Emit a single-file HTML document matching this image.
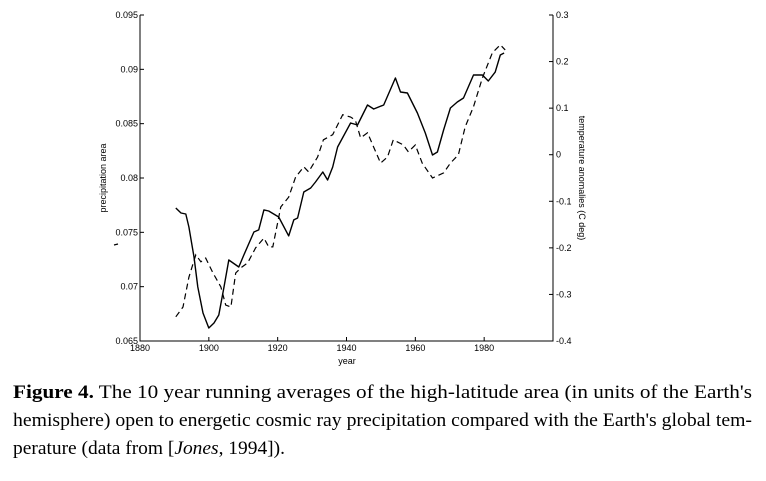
<!DOCTYPE html>
<html><head><meta charset="utf-8"><style>
html,body{margin:0;padding:0;background:#fff;}
svg{display:block;font-family:"Liberation Sans",sans-serif;}
</style></head><body>
<svg id="chart" width="766" height="481" viewBox="0 0 766 481" xmlns="http://www.w3.org/2000/svg">
<g id="axes"></g>
<g id="series"></g>
<line x1="114" y1="245" x2="118" y2="244" stroke="#000" stroke-width="1.2"/>
<text transform="translate(106,178) rotate(-90)" text-anchor="middle" font-size="9">precipitation area</text>
<text transform="translate(579,178) rotate(90)" text-anchor="middle" font-size="9">temperature anomalies (C deg)</text>
<text x="347" y="364" text-anchor="middle" font-size="9">year</text>
<g font-family="Liberation Serif, serif" font-size="19">
<text x="13" y="398" textLength="739" lengthAdjust="spacingAndGlyphs"><tspan font-weight="bold">Figure 4.</tspan>  The 10 year running averages of the high-latitude area (in units of the Earth's</text>
<text x="13" y="426" textLength="739" lengthAdjust="spacingAndGlyphs">hemisphere) open to energetic cosmic ray precipitation compared with the Earth's global tem-</text>
<text x="13" y="454" textLength="272" lengthAdjust="spacingAndGlyphs">perature (data from [<tspan font-style="italic">Jones</tspan>, 1994]).</text>
</g>
</svg>
<script>
const xTicks=[1880,1900,1920,1940,1960,1980];
const yLeftTicks=["0.065","0.07","0.075","0.08","0.085","0.09","0.095"];
const yRightTicks=["-0.4","-0.3","-0.2","-0.1","0","0.1","0.2","0.3"];
const precipYears=[1890.4,1891.9,1893.3,1894.2,1895.7,1896.8,1898.3,1900,1901.5,1902.9,1904.4,1905.8,1908.7,1910.2,1913.1,1914.5,1916,1917.4,1920.3,1923.2,1924.7,1925.8,1927.6,1929.6,1931,1933.1,1934.5,1936,1937.4,1941.2,1943.2,1946.1,1947.9,1950.8,1954.2,1955.7,1957.7,1960.6,1962.9,1965,1966.4,1968.2,1970.2,1972.2,1974,1976.9,1979.5,1981.2,1983.2,1984.7,1985.8];
const precipValues=[0.07724,0.07678,0.07669,0.07549,0.07273,0.06997,0.06758,0.0662,0.06666,0.06739,0.06997,0.07245,0.07181,0.07292,0.07503,0.07522,0.07706,0.07696,0.07641,0.07467,0.07614,0.07632,0.07871,0.07908,0.07963,0.08055,0.07982,0.08101,0.08285,0.08506,0.08488,0.08672,0.08635,0.08672,0.0892,0.08791,0.08782,0.08598,0.08414,0.08212,0.08239,0.08442,0.08644,0.08699,0.08736,0.08948,0.08948,0.08893,0.08975,0.09132,0.0915];
const tempYears=[1890.4,1892.5,1894.2,1896.2,1897.7,1899.1,1901.2,1903.5,1904.9,1906.4,1907.8,1909.3,1911.3,1913.6,1916,1917.4,1918.6,1920.9,1923.2,1925.2,1927.6,1929,1931.6,1933.3,1936,1938.9,1941.2,1942.6,1944.1,1946.1,1949.9,1951.9,1953.6,1956.5,1958,1960,1962,1965,1968.2,1970.2,1972.5,1974.5,1976.9,1979.5,1982.4,1984.7,1986.1];
const tempValues=[-0.348,-0.327,-0.263,-0.215,-0.23,-0.222,-0.254,-0.284,-0.323,-0.327,-0.254,-0.243,-0.232,-0.2,-0.179,-0.198,-0.198,-0.112,-0.091,-0.048,-0.026,-0.037,-0.005,0.032,0.043,0.086,0.081,0.074,0.036,0.047,-0.018,-0.005,0.032,0.021,0.006,0.021,-0.018,-0.05,-0.039,-0.018,0,0.06,0.103,0.165,0.219,0.236,0.225];

const X0=140,X1=553,Y0=15,Y1=341;
const xs=y=>X0+(y-1880)/120*(X1-X0);
const yl=v=>Y1-(v-0.065)/0.03*(Y1-Y0);
const yr=v=>Y1-(v+0.4)/0.7*(Y1-Y0);
const NS="http://www.w3.org/2000/svg";
function mk(tag,attrs,parent){const e=document.createElementNS(NS,tag);for(const k in attrs)e.setAttribute(k,attrs[k]);parent.appendChild(e);return e;}
const ax=document.getElementById('axes');
const frame=mk('path',{d:`M${X0},${Y0}V${Y1}H${X1}V${Y0}`,fill:'none',stroke:'#000','stroke-width':1},ax);


xTicks.forEach(t=>{
  const x=xs(t);
  const l=mk('line',{x1:x,y1:Y1,x2:x,y2:Y1-4,stroke:'#000'},ax);
  
  
  const tx=mk('text',{x:x,y:Y1+10,'text-anchor':'middle','font-size':9},ax);
  tx.textContent=t;
  
  
});
yLeftTicks.forEach(t=>{
  const y=yl(parseFloat(t));
  const l=mk('line',{x1:X0,y1:y,x2:X0+4,y2:y,stroke:'#000'},ax);
  
  
  const tx=mk('text',{x:X0-2,y:y+3,'text-anchor':'end','font-size':9},ax);
  tx.textContent=t;
  
  
});
yRightTicks.forEach(t=>{
  const y=yr(parseFloat(t));
  const l=mk('line',{x1:X1,y1:y,x2:X1-4,y2:y,stroke:'#000'},ax);
  
  
  const tx=mk('text',{x:X1+3,y:y+3,'font-size':9},ax);
  tx.textContent=t;
  
  
});
const sg=document.getElementById('series');
const p1=mk('path',{d:precipYears.map((yy,i)=>(i?'L':'M')+xs(yy).toFixed(1)+','+yl(precipValues[i]).toFixed(1)).join(''),fill:'none',stroke:'#000','stroke-width':1.4,'stroke-linejoin':'round'},sg);


const p2=mk('path',{d:tempYears.map((yy,i)=>(i?'L':'M')+xs(yy).toFixed(1)+','+yr(tempValues[i]).toFixed(1)).join(''),fill:'none',stroke:'#000','stroke-width':1.2,'stroke-dasharray':'6,4'},sg);


</script>
</body></html>
